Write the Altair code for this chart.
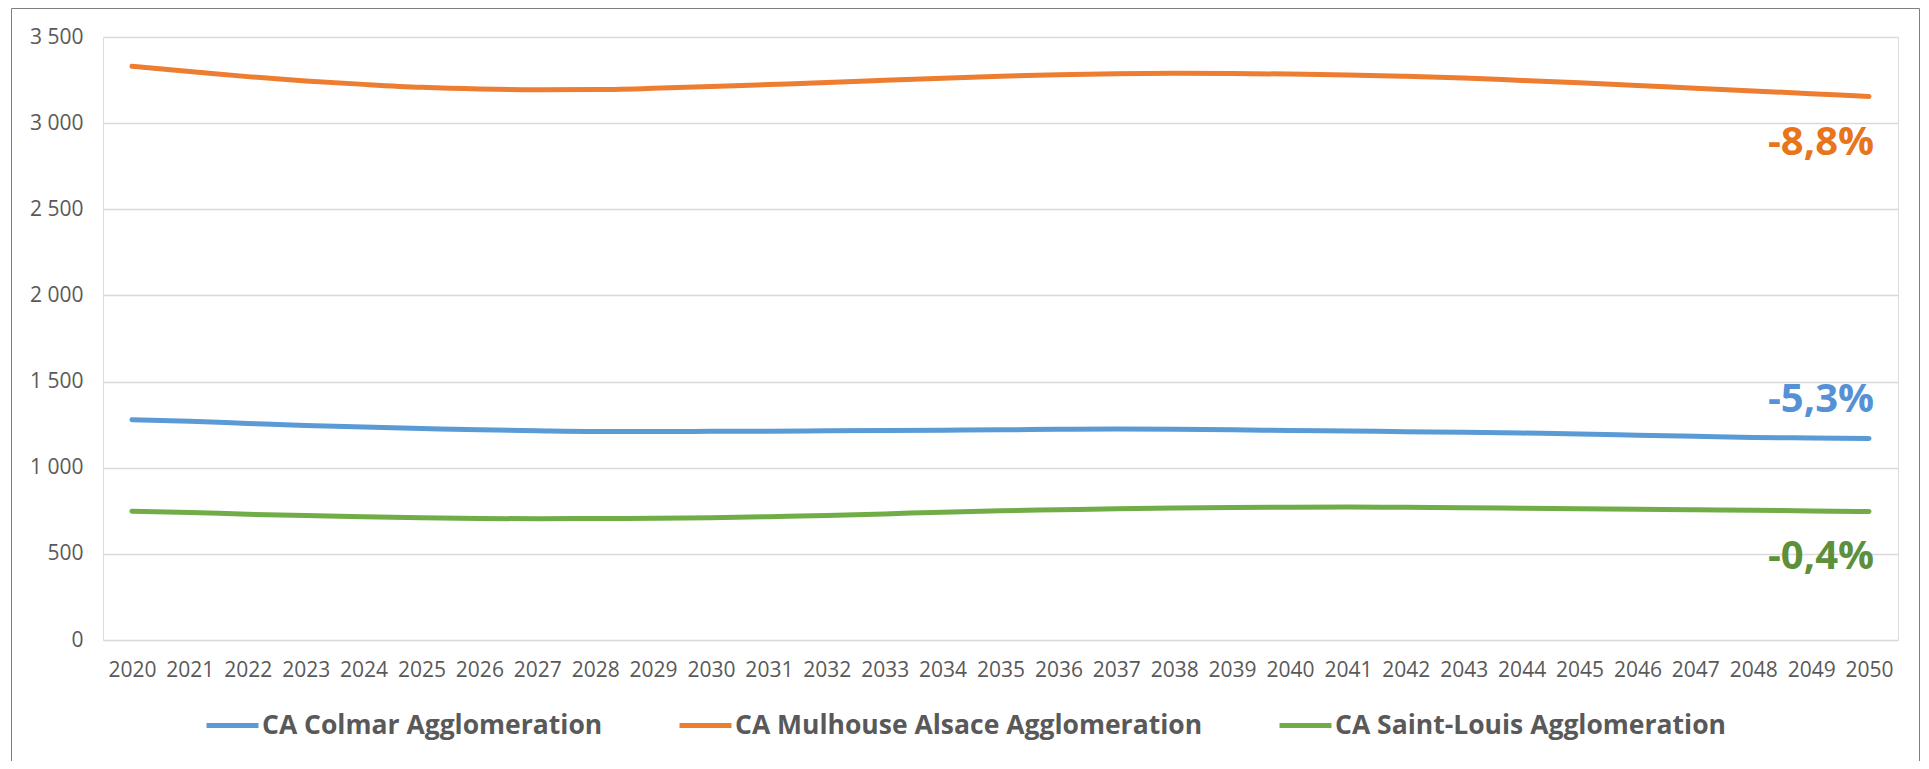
import altair as alt
import pandas as pd

years = list(range(2020, 2051))

colmar = [1278, 1270, 1257, 1245, 1236, 1228, 1220, 1214, 1210, 1210, 1211,
          1212, 1214, 1216, 1218, 1220, 1223, 1225, 1223, 1220, 1216, 1213,
          1209, 1206, 1201, 1196, 1189, 1182, 1176, 1173, 1170]
mulhouse = [3330, 3300, 3270, 3245, 3225, 3208, 3198, 3194, 3195, 3202, 3212,
            3224, 3236, 3249, 3261, 3272, 3281, 3287, 3289, 3288, 3285, 3280,
            3272, 3262, 3248, 3234, 3219, 3203, 3187, 3171, 3155]
saintlouis = [748, 740, 730, 722, 715, 709, 705, 704, 705, 706, 709,
              716, 723, 732, 742, 750, 756, 762, 766, 769, 771, 772,
              770, 768, 765, 762, 759, 756, 753, 749, 746]

series_names = ["CA Colmar Agglomeration", "CA Mulhouse Alsace Agglomeration",
                "CA Saint-Louis Agglomeration"]
series_colors = ["#5B9BD5", "#ED7D31", "#70AD47"]

annot_labels = ["-5,3%", "-8,8%", "-0,4%"]
annot_values = [1394, 2886, 482]
annot_colors = ["#5591D6", "#E8741C", "#5E8F3A"]

rows = []
for name, vals in zip(series_names, [colmar, mulhouse, saintlouis]):
    for y, v in zip(years, vals):
        rows.append({"year": y, "value": v, "series": name})
df = pd.DataFrame(rows)

W, H = 1795, 603

x_enc = alt.X("year:O", scale=alt.Scale(type="point", padding=0.5),
              axis=alt.Axis(title=None, labelAngle=0, ticks=False, domain=False,
                            labelFont="Open Sans", labelFontSize=21,
                            labelColor="#595959", labelPadding=19, grid=False))
y_enc = alt.Y("value:Q", scale=alt.Scale(domain=[0, 3500], nice=False),
              axis=alt.Axis(title=None, values=list(range(0, 3501, 500)),
                            ticks=False, domain=False, grid=True,
                            gridColor="#D9D9D9", gridWidth=1.5,
                            labelFont="Open Sans", labelFontSize=21,
                            labelColor="#595959", labelPadding=20,
                            labelExpr="replace(format(datum.value, ','), ',', ' ')"))

lines = alt.Chart(df).mark_line(strokeWidth=5, strokeCap="round",
                                interpolate="monotone").encode(
    x=x_enc,
    y=y_enc,
    color=alt.Color("series:N",
                    scale=alt.Scale(domain=series_names, range=series_colors),
                    legend=alt.Legend(title=None, orient="none", direction="horizontal",
                                      legendX=101, legendY=660,
                                      symbolType="stroke", symbolSize=2700,
                                      symbolStrokeWidth=5, labelOffset=1,
                                      columnPadding=66,
                                      labelFont="Open Sans", labelFontSize=26.5,
                                      labelFontWeight="bold", labelColor="#595959",
                                      labelLimit=700)),
)

layers = [lines]
for lab, val, col in zip(annot_labels, annot_values, annot_colors):
    adf = pd.DataFrame({"year": [2050], "value": [val], "label": [lab]})
    layers.append(
        alt.Chart(adf).mark_text(align="right", baseline="middle", dx=5,
                                 font="Open Sans", fontSize=40, fontWeight="bold",
                                 color=col).encode(
            x=alt.X("year:O"), y=alt.Y("value:Q"), text="label:N")
    )

frame_df = pd.DataFrame({"k": [0]})
frame_col = "#7F7F7F"
frame = [
    alt.Chart(frame_df).mark_rule(color=frame_col, strokeWidth=1).encode(
        x=alt.value(-91.5), x2=alt.value(-91.5), y=alt.value(-28.5), y2=alt.value(724)),
    alt.Chart(frame_df).mark_rule(color=frame_col, strokeWidth=1).encode(
        x=alt.value(-91.5), x2=alt.value(1816.5), y=alt.value(-28.5), y2=alt.value(-28.5)),
    alt.Chart(frame_df).mark_rule(color=frame_col, strokeWidth=1).encode(
        x=alt.value(1816.5), x2=alt.value(1816.5), y=alt.value(-28.5), y2=alt.value(724)),
]

chart = alt.layer(*layers, *frame).properties(
    width=W, height=H,
    autosize=alt.AutoSizeParams(type="none"),
    padding={"left": 95, "top": 29, "right": 23, "bottom": 121},
).configure_view(stroke="transparent").configure(background="white")

chart.save("out.html", embed_options={"renderer": "svg", "actions": False})
